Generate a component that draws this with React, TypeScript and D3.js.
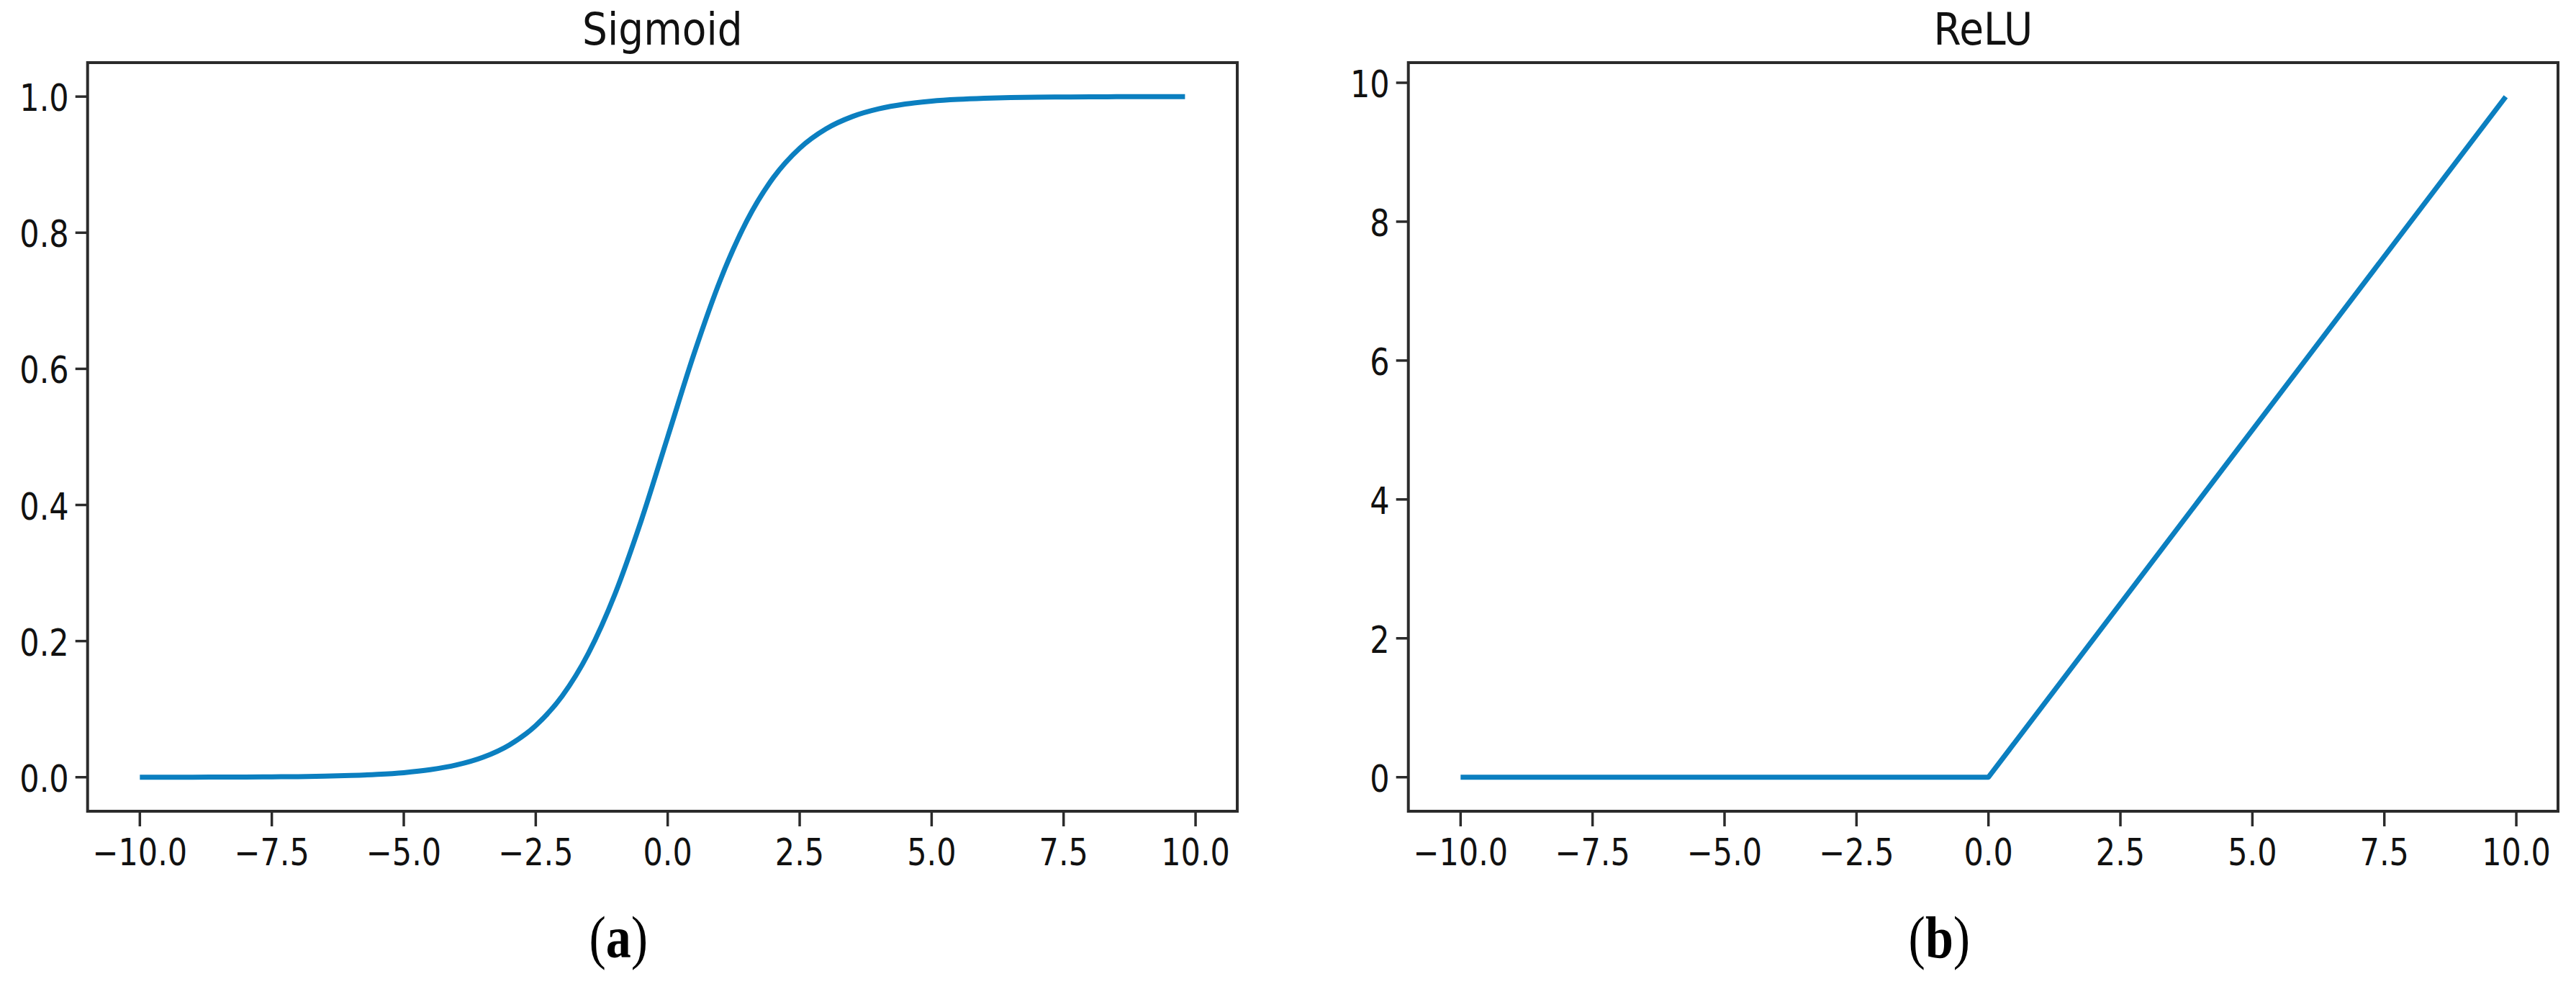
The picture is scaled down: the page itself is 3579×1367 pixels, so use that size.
import React from "react";
import * as d3 from "d3";

// ---- data ----
const sigmoidX = [
  -10, -9.5, -9, -8.5, -8, -7.5, -7, -6.5, -6, -5.5, -5, -4.5, -4, -3.5, -3, -2.5, -2, -1.5, -1, -0.5,
  0, 0.5, 1, 1.5, 2, 2.5, 3, 3.5, 4, 4.5, 5, 5.5, 6, 6.5, 7, 7.5, 8, 8.5, 9, 9.5, 9.8,
];
const sigmoidY = [
  0.0000, 0.0001, 0.0001, 0.0002, 0.0003, 0.0006, 0.0009, 0.0015, 0.0025, 0.0041, 0.0067, 0.0110,
  0.0180, 0.0293, 0.0474, 0.0759, 0.1192, 0.1824, 0.2689, 0.3775, 0.5, 0.6225, 0.7311, 0.8176,
  0.8808, 0.9241, 0.9526, 0.9707, 0.9820, 0.9890, 0.9933, 0.9959, 0.9975, 0.9985, 0.9991, 0.9994,
  0.9997, 0.9998, 0.9999, 0.9999, 0.9999,
];
const reluX = [-10, 0, 9.8];
const reluY = [0, 0, 9.8];

const xTicks = [-10, -7.5, -5, -2.5, 0, 2.5, 5, 7.5, 10];
const sigmoidYTicks = [0, 0.2, 0.4, 0.6, 0.8, 1.0];
const reluYTicks = [0, 2, 4, 6, 8, 10];
const titles = ["Sigmoid", "ReLU"];
const captions = ["a", "b"];

// ---- layout ----
const W = 3579;
const H = 1367;
const TOP = 87;
const BOTTOM = 1127;
const PANELS = [
  { x0: 121.7, x1: 1719 },
  { x0: 1956.7, x1: 3554 },
];
const LINE_COLOR = "#0b7fc0";
const AXIS_COLOR = "#2b2b2b";
const SANS = "'DejaVu Sans', sans-serif";
const SERIF = "'Liberation Serif', 'Times New Roman', serif";
const SY = 1.18; // vertical stretch of the reference's text

function padded(vals: number[]): [number, number] {
  const [a, b] = d3.extent(vals) as [number, number];
  const m = (b - a) * 0.05;
  return [a - m, b + m];
}

const fmtMinus = (s: string) => s.replace("-", "\u2212");

function Panel({
  idx,
  xs,
  ys,
  yTicks,
  yFmt,
  curve,
}: {
  idx: number;
  xs: number[];
  ys: number[];
  yTicks: number[];
  yFmt: (v: number) => string;
  curve: d3.CurveFactory;
}) {
  const { x0, x1 } = PANELS[idx];
  const x = d3.scaleLinear().domain(padded(xs)).range([x0, x1]);
  const y = d3.scaleLinear().domain(padded(ys)).range([BOTTOM, TOP]);
  const pts = xs.map((v, i) => [v, ys[i]] as [number, number]);
  const path = d3
    .line<[number, number]>()
    .x((d) => x(d[0]))
    .y((d) => y(d[1]))
    .curve(curve)(pts) as string;
  const xf = d3.format(".1f");
  const cx = (x0 + x1) / 2;
  return (
    <g>
      <path d={path} fill="none" stroke={LINE_COLOR} strokeWidth={7} strokeLinejoin="round" />
      {/* spines */}
      <rect x={x0} y={TOP} width={x1 - x0} height={BOTTOM - TOP} fill="none" stroke={AXIS_COLOR} strokeWidth={4} />
      {/* x ticks */}
      {xTicks.map((t) => (
        <g key={"x" + t}>
          <line x1={x(t)} x2={x(t)} y1={BOTTOM} y2={BOTTOM + 21} stroke={AXIS_COLOR} strokeWidth={3.5} />
          <g transform={`translate(${x(t)},1202) scale(1,${SY})`}>
            <text x={0} y={0} textAnchor="middle" fontFamily={SANS} fontSize={43} fill="#111">
              {fmtMinus(xf(t))}
            </text>
          </g>
        </g>
      ))}
      {/* y ticks */}
      {yTicks.map((t) => (
        <g key={"y" + t}>
          <line x1={x0 - 17} x2={x0} y1={y(t)} y2={y(t)} stroke={AXIS_COLOR} strokeWidth={3.5} />
          <g transform={`translate(${x0 - 26},${y(t) + 20}) scale(1,${SY})`}>
            <text x={0} y={0} textAnchor="end" fontFamily={SANS} fontSize={43} fill="#111">
              {yFmt(t)}
            </text>
          </g>
        </g>
      ))}
      {/* title */}
      <g transform={`translate(${cx},62) scale(1,1.13)`}>
        <text x={0} y={0} textAnchor="middle" fontFamily={SANS} fontSize={55} fill="#111">
          {titles[idx]}
        </text>
      </g>
      {/* caption */}
      <g transform={`translate(${cx - 61},1330) scale(1,1.17)`}>
        <text x={0} y={0} textAnchor="middle" fontFamily={SERIF} fontSize={70} fill="#000">
          (<tspan fontWeight="bold">{captions[idx]}</tspan>)
        </text>
      </g>
    </g>
  );
}

export default function App() {
  return (
    <div style={{ position: "absolute", left: 0, top: 0, width: W, height: H, background: "#fff" }}>
      <svg width={W} height={H} viewBox={`0 0 ${W} ${H}`} style={{ display: "block" }}>
        <rect x={0} y={0} width={W} height={H} fill="#fff" />
        <Panel
          idx={0}
          xs={sigmoidX}
          ys={sigmoidY}
          yTicks={sigmoidYTicks}
          yFmt={d3.format(".1f")}
          curve={d3.curveMonotoneX}
        />
        <Panel
          idx={1}
          xs={reluX}
          ys={reluY}
          yTicks={reluYTicks}
          yFmt={d3.format("d")}
          curve={d3.curveLinear}
        />
      </svg>
    </div>
  );
}
